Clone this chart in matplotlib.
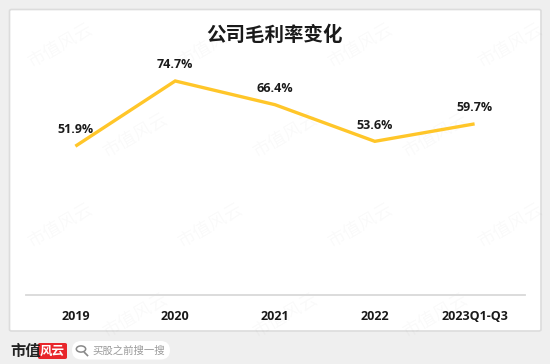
import matplotlib
matplotlib.use("Agg")
import matplotlib.pyplot as plt
from matplotlib.patches import FancyBboxPatch, Circle
from matplotlib.lines import Line2D

# ── data ─────────────────────────────────────────────────────────────────────
periods = ["2019", "2020", "2021", "2022", "2023Q1-Q3"]
gross_margin = [51.9, 74.7, 66.4, 53.6, 59.7]   # %
title = "公司毛利率变化"

W, H = 550, 364
CJK = ["Noto Sans CJK SC", "DejaVu Sans"]
NUM = ["Open Sans", "DejaVu Sans"]
LINE_COLOR = "#FFC629"

def fx(px):  # pixel x -> figure fraction
    return px / W

def fy(py):  # pixel y from top -> figure fraction
    return 1 - py / H

fig = plt.figure(figsize=(W / 100, H / 100), dpi=100, facecolor="#efefef")

# white card
card = FancyBboxPatch((fx(9.5), fy(331)), fx(541) - fx(9.5), fy(9.5) - fy(331),
                      boxstyle="round,pad=0,rounding_size=0.004",
                      transform=fig.transFigure, facecolor="white",
                      edgecolor="#dcdcdc", linewidth=1.2, zorder=-10)
fig.patches.append(card)

# faint watermark tiles (kept inside the frame)
for row, y0 in enumerate(range(45, 340, 90)):
    for x0 in range(60 + (row % 2) * 75, 520, 150):
        fig.text(fx(x0), fy(y0), "市值风云", family=CJK, fontsize=13,
                 color="#000000", alpha=0.025, rotation=30,
                 ha="center", va="center", zorder=-5)

# ── chart ────────────────────────────────────────────────────────────────────
ax = fig.add_axes([fx(25.5), fy(294.7), fx(524.5) - fx(25.5), fy(65.8) - fy(294.7)],
                  zorder=5)
ax.set_facecolor("none")
x = list(range(len(periods)))
ax.plot(x, gross_margin, color=LINE_COLOR, linewidth=2.4,
        solid_joinstyle="miter", solid_capstyle="butt", zorder=3)
for xi, v in zip(x, gross_margin):
    ax.annotate(f"{v:.1f}%", (xi, v), xytext=(0, 7), textcoords="offset points",
                ha="center", va="bottom", fontsize=9, fontweight="bold",
                family=NUM, color="#1a1a1a")

ax.set_xlim(-0.5, len(periods) - 0.5)
ax.set_ylim(0, 80)
ax.set_yticks([])
ax.set_xticks(x)
ax.set_xticklabels(periods, fontsize=9, fontweight="bold", family=NUM, color="#1a1a1a")
ax.tick_params(axis="x", length=0, pad=11)
for s in ("top", "left", "right"):
    ax.spines[s].set_visible(False)
ax.spines["bottom"].set_color("#d9d9d9")
ax.spines["bottom"].set_linewidth(1.3)

fig.text(fx(275), fy(35), title, family=CJK, fontsize=14, fontweight="bold",
         color="#1a1a1a", ha="center", va="center")

# ── footer ───────────────────────────────────────────────────────────────────
fig.text(fx(10.5), fy(351), "市值", family=CJK, fontsize=11, fontweight="bold",
         color="#222222", ha="left", va="center")
logo = FancyBboxPatch((fx(38), fy(359)), fx(29), fy(343) - fy(359),
                      boxstyle="round,pad=0,rounding_size=0.004",
                      transform=fig.transFigure, facecolor="#e8262b",
                      edgecolor="none")
fig.patches.append(logo)
fig.text(fx(52.5), fy(351), "风云", family=CJK, fontsize=9, fontweight="bold",
         color="white", ha="center", va="center", style="italic")

pill = FancyBboxPatch((fx(72), fy(359.5)), fx(170) - fx(72), fy(341) - fy(359.5),
                      boxstyle="round,pad=0,rounding_size=0.017",
                      transform=fig.transFigure, facecolor="white",
                      edgecolor="none", mutation_aspect=W / H)
fig.patches.append(pill)
fig.patches.append(Circle((fx(81), fy(349)), 0.0085, transform=fig.transFigure,
                          facecolor="none", edgecolor="#888888", linewidth=1.1))
fig.lines.append(Line2D([fx(84.5), fx(87.5)], [fy(352.5), fy(355.5)],
                        transform=fig.transFigure, color="#888888", linewidth=1.2))
fig.text(fx(92), fy(350.5), "买股之前搜一搜", family=CJK, fontsize=7.5,
         color="#9a9a9a", ha="left", va="center")

fig.savefig("out.png", dpi=100, facecolor=fig.get_facecolor())
